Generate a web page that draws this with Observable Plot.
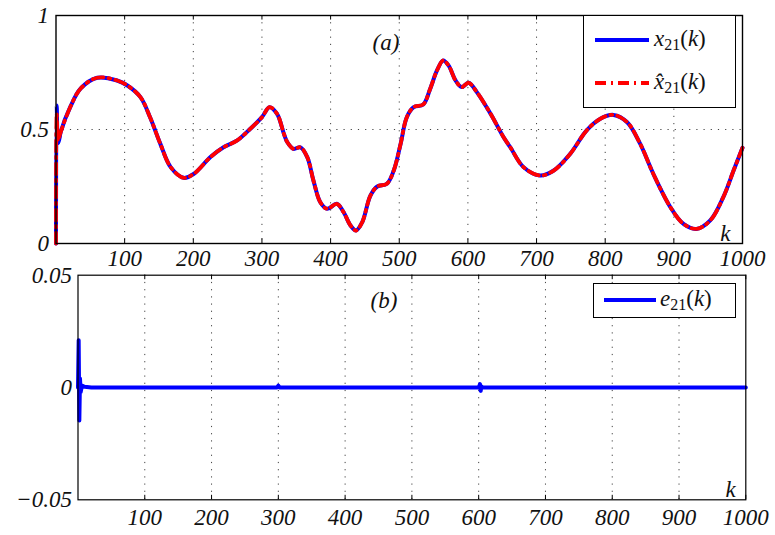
<!DOCTYPE html>
<html>
<head>
<meta charset="utf-8">
<script src="https://cdn.jsdelivr.net/npm/d3@7"></script>
<script src="https://cdn.jsdelivr.net/npm/@observablehq/plot@0.6"></script>
<style>
  html, body { margin: 0; padding: 0; background: white; }
  #wrap { position: relative; width: 775px; height: 535px; background: white; overflow: hidden; }
  #wrap svg { display: block; }
  .leg { position: absolute; background: white; border: 1.3px solid black; box-sizing: border-box; }
  .leg .row { position: absolute; left: 0; right: 0; height: 30px; }
  .leg .txt { position: absolute; font-size: 23px; color: #111; white-space: nowrap; line-height: 30px; }
  .leg .txt sub { font-size: 16px; vertical-align: -4px; line-height: 0; font-style: normal; }
</style>
</head>
<body>
<div id="wrap">
  <div id="topPanel"></div>
  <div id="botPanel"></div>
  <div class="leg" style="left:583px; top:15px; width:153px; height:93px;">
    <div class="row" style="top:9px;">
      <svg width="60" height="30" style="position:absolute;left:10px;top:0"><line x1="1" x2="55" y1="15" y2="15" stroke="blue" stroke-width="4"/></svg>
      <div class="txt" style="left:70px; top:-1px; font-family:'Liberation Serif' !important"><i>x</i><sub>21</sub>(<i>k</i>)</div>
    </div>
    <div class="row" style="top:52px;">
      <svg width="60" height="30" style="position:absolute;left:10px;top:0"><line x1="1" x2="55" y1="15" y2="15" stroke="red" stroke-width="4" stroke-dasharray="11,5,2,5"/></svg>
      <div class="txt" style="left:70px; top:-1px; font-family:'Liberation Serif' !important"><i>x̂</i><sub>21</sub>(<i>k</i>)</div>
    </div>
  </div>
  <div class="leg" style="left:593px; top:283px; width:143px; height:35px;">
    <div class="row" style="top:1px;">
      <svg width="60" height="30" style="position:absolute;left:9px;top:0"><line x1="1" x2="53" y1="15" y2="15" stroke="blue" stroke-width="4"/></svg>
      <div class="txt" style="left:66px; top:-1px; font-family:'Liberation Serif' !important"><i>e</i><sub>21</sub>(<i>k</i>)</div>
    </div>
  </div>
</div>
<script>
// ---- data ----
const kTop = [0, 1, 3, 5, 7, 21, 36, 60, 89, 104, 123, 137, 152, 167, 186, 201, 225, 244, 264, 283, 300, 311, 322, 332, 337, 346, 356, 366, 375, 385, 395, 409, 419, 429, 437, 446, 458, 468, 482, 492, 502, 511, 521, 535, 545, 555, 564, 572, 582, 591, 601, 613, 633, 652, 662, 681, 705, 725, 749, 773, 793, 812, 832, 851, 870, 895, 914, 933, 953, 972, 987, 1000];
const xVals = [0, 0.605, 0.44, 0.46, 0.49, 0.60, 0.68, 0.727, 0.715, 0.693, 0.642, 0.554, 0.437, 0.335, 0.288, 0.306, 0.379, 0.422, 0.452, 0.503, 0.554, 0.598, 0.569, 0.481, 0.444, 0.415, 0.422, 0.379, 0.276, 0.181, 0.152, 0.174, 0.137, 0.079, 0.057, 0.093, 0.21, 0.25, 0.262, 0.32, 0.437, 0.554, 0.598, 0.61, 0.678, 0.759, 0.803, 0.78, 0.715, 0.686, 0.705, 0.664, 0.569, 0.466, 0.421, 0.335, 0.298, 0.32, 0.393, 0.496, 0.547, 0.564, 0.532, 0.437, 0.306, 0.159, 0.086, 0.064, 0.101, 0.203, 0.32, 0.42];
const xhatVals = [0, 0.57, 0.45, 0.47, 0.49, 0.60, 0.68, 0.727, 0.715, 0.693, 0.642, 0.554, 0.437, 0.335, 0.288, 0.306, 0.379, 0.422, 0.452, 0.503, 0.554, 0.598, 0.569, 0.481, 0.444, 0.415, 0.422, 0.379, 0.276, 0.181, 0.152, 0.174, 0.137, 0.079, 0.057, 0.093, 0.21, 0.25, 0.262, 0.32, 0.437, 0.554, 0.598, 0.61, 0.678, 0.759, 0.803, 0.78, 0.715, 0.686, 0.705, 0.664, 0.569, 0.466, 0.421, 0.335, 0.298, 0.32, 0.393, 0.496, 0.547, 0.564, 0.532, 0.437, 0.306, 0.159, 0.086, 0.064, 0.101, 0.203, 0.32, 0.42];
const kErr = [0, 1, 2, 3, 4, 6, 10, 20, 298, 300, 302, 600, 602, 603, 604, 606, 1000];
const eVals = [0, 0.021, -0.0147, 0.004, -0.002, 0.0008, 0.0003, 0, 0, 0.0008, 0, 0, 0.0015, -0.0015, 0.0005, 0, 0];
const xTickVals = [100, 200, 300, 400, 500, 600, 700, 800, 900, 1000];
const xGridVals = [100, 200, 300, 400, 500, 600, 700, 800, 900];
const yTopTicks = [0, 0.5, 1];
const yBotTicks = [-0.05, 0, 0.05];

const topData = kTop.map((k, i) => ({k, x: xVals[i], xhat: xhatVals[i]}));
const errData = kErr.map((k, i) => ({k, e: eVals[i]}));

const fmtY = d => d === 0 ? "0" : String(d).replace("-", "\u2212");
const baseStyle = {fontSize: "23px", color: "#111", background: "white", overflow: "visible"};
const gridStyle = {stroke: "#444", strokeOpacity: 1, strokeWidth: 1, strokeDasharray: "1.2,6"};

const topPlot = Plot.plot({
  width: 775, height: 267,
  marginTop: 15, marginBottom: 24, marginLeft: 55.5, marginRight: 33,
  x: {domain: [0, 1000]},
  y: {domain: [0, 1]},
  style: baseStyle,
  marks: [
    Plot.gridX(xGridVals, gridStyle),
    Plot.gridY([0.5], gridStyle),
    Plot.ruleX(xTickVals, {y1: 0, y2: 0.02, stroke: "black"}),
    Plot.ruleX(xTickVals, {y1: 0.98, y2: 1, stroke: "black"}),
    Plot.line(topData, {x: "k", y: "x", stroke: "blue", strokeWidth: 4, curve: "catmull-rom"}),
    Plot.line(topData, {x: "k", y: "xhat", stroke: "red", strokeWidth: 3.8, strokeDasharray: "11,5,2,5", curve: "catmull-rom"}),
    Plot.frame({stroke: "black", strokeWidth: 1.4}),
    Plot.axisX(xTickVals, {anchor: "bottom", tickSize: 0, tickPadding: 6, label: null, tickFormat: d => String(d)}),
    Plot.axisY(yTopTicks, {anchor: "left", tickSize: 0, tickPadding: 7, label: null, tickFormat: fmtY}),
    Plot.text(["(a)"], {frameAnchor: "top-left", dx: 330, dy: 18, textAnchor: "middle", text: d => d}),
    Plot.text(["k"], {frameAnchor: "bottom-right", dx: -12, dy: -3, textAnchor: "end", text: d => d})
  ]
});

const botPlot = Plot.plot({
  width: 775, height: 268,
  marginTop: 7.7, marginBottom: 35.7, marginLeft: 77.5, marginRight: 29.7,
  x: {domain: [0, 1000]},
  y: {domain: [-0.05, 0.05]},
  style: baseStyle,
  marks: [
    Plot.gridX(xGridVals, gridStyle),
    Plot.ruleX(xTickVals, {y1: -0.05, y2: -0.048, stroke: "black"}),
    Plot.ruleX(xTickVals, {y1: 0.048, y2: 0.05, stroke: "black"}),
    Plot.line(errData, {x: "k", y: "e", stroke: "blue", strokeWidth: 4}),
    Plot.frame({stroke: "black", strokeWidth: 1.2}),
    Plot.axisX(xTickVals, {anchor: "bottom", tickSize: 0, tickPadding: 9, label: null, tickFormat: d => String(d)}),
    Plot.axisY(yBotTicks, {anchor: "left", tickSize: 0, tickPadding: 6, label: null, tickFormat: fmtY}),
    Plot.text(["(b)"], {frameAnchor: "top-left", dx: 306, dy: 16, textAnchor: "middle", text: d => d}),
    Plot.text(["k"], {frameAnchor: "bottom-right", dx: -10, dy: -3, textAnchor: "end", text: d => d})
  ]
});

for (const svg of [topPlot, botPlot]) {
  d3.select(svg).selectAll("text")
    .style("font-family", "'Liberation Serif'", "important")
    .style("font-style", "italic")
    .style("font-variant", "normal")
    .style("font-size", "23px");
}

document.getElementById("topPanel").appendChild(topPlot);
document.getElementById("botPanel").appendChild(botPlot);
</script>
</body>
</html>
